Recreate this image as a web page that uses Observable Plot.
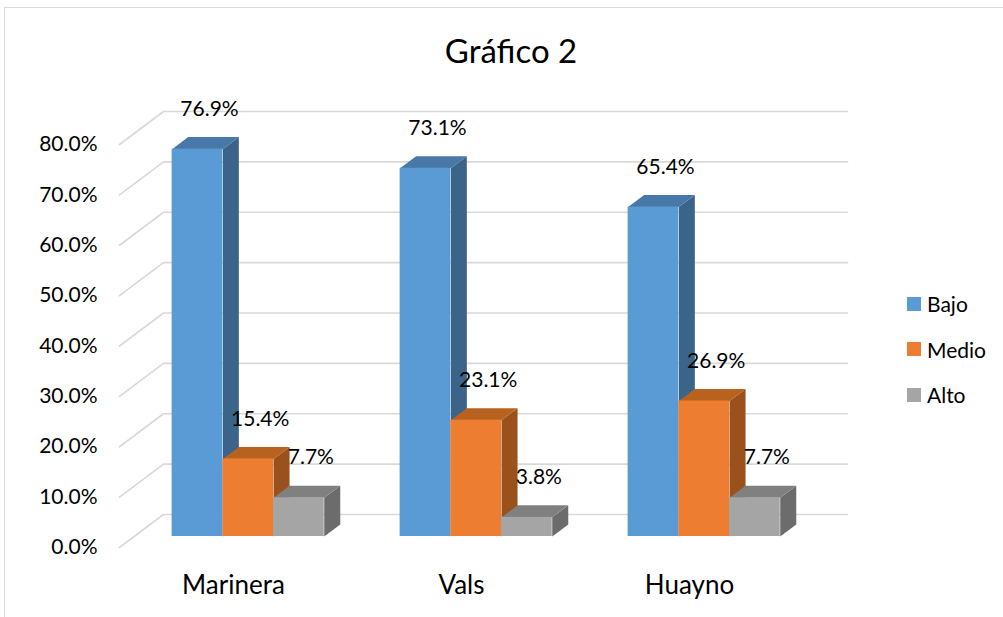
<!DOCTYPE html>
<html><head><meta charset="utf-8">
<script src="https://cdn.jsdelivr.net/npm/d3@7"></script>
<script src="https://cdn.jsdelivr.net/npm/@observablehq/plot@0.6"></script>
<style>
body{margin:0;background:#fff;font-family:Lato,sans-serif;}
#wrap{position:relative;width:1003px;height:617px;overflow:hidden;background:#fff;}
#border{position:absolute;left:4px;top:7px;width:1100px;height:700px;border:1.5px solid #d9d9d9;box-sizing:border-box;}
#chart{position:absolute;left:0;top:0;}
#title{position:absolute;left:0;width:1022px;top:34px;text-align:center;font-size:33px;line-height:33px;color:#000;}
#legend{position:absolute;left:907px;top:281px;font-size:21px;color:#000;}
#legend .row{display:flex;align-items:center;height:45.5px;}
#legend .sw{width:14px;height:14px;margin-right:6px;}
</style></head>
<body><div id="wrap"><div id="border"></div><div id="chart"></div><div id="title">Gráfico 2</div><div id="legend"></div></div>
<script>
// ---- data ----
const categories = ["Marinera", "Vals", "Huayno"];
const series = ["Bajo", "Medio", "Alto"];
const bajo = [76.9, 73.1, 65.4];
const medio = [15.4, 23.1, 26.9];
const alto = [7.7, 3.8, 7.7];
const yTicks = [0, 10, 20, 30, 40, 50, 60, 70, 80];

// ---- styles ----
const frontColors = ["#5B9BD5", "#ED7D31", "#A5A5A5"];
const topColors = ["#4878A8", "#B8621F", "#808080"];
const sideColors = ["#3B6488", "#9B511B", "#6C6C6C"];

// ---- 3D geometry (in data units of the front plane) ----
const DX = 0.193, DY = 6.55;      // full depth of floor
const d0 = 0.333, d1 = 0.697;     // bar front / back depth
const groupPad = 0.1665, bw = 0.2224;

const values = [bajo, medio, alto];
const bars = [];
categories.forEach((cat, i) => {
  series.forEach((s, j) => {
    const v = values[j][i];
    const x1 = i + groupPad + j * bw + d0 * DX;
    bars.push({cat, series: s, j, value: v, x1, x2: x1 + bw, y0: d0 * DY, y: v + d0 * DY});
  });
});
const ddx = (d1 - d0) * DX, ddy = (d1 - d0) * DY;

const grid = yTicks.flatMap(v => [
  {v, x: 0, y: v},
  {v, x: DX, y: v + DY},
  {v, x: categories.length + DX, y: v + DY}
]);

const marks = [];
marks.push(Plot.line(grid, {x: "x", y: "y", z: "v", stroke: "#d9d9d9", strokeWidth: 1.7}));

series.forEach((s, j) => {
  const side = bars.filter(b => b.j === j).flatMap((b, k) => [
    {id: k, x: b.x2, y: b.y0}, {id: k, x: b.x2, y: b.y},
    {id: k, x: b.x2 + ddx, y: b.y + ddy}, {id: k, x: b.x2 + ddx, y: b.y0 + ddy}
  ]);
  marks.push(Plot.line(side, {x: "x", y: "y", z: "id", fill: sideColors[j], stroke: "none"}));
});
series.forEach((s, j) => {
  const top = bars.filter(b => b.j === j).flatMap((b, k) => [
    {id: k, x: b.x1, y: b.y}, {id: k, x: b.x2, y: b.y},
    {id: k, x: b.x2 + ddx, y: b.y + ddy}, {id: k, x: b.x1 + ddx, y: b.y + ddy}
  ]);
  marks.push(Plot.line(top, {x: "x", y: "y", z: "id", fill: topColors[j], stroke: "none"}));
});
marks.push(Plot.rect(bars, {x1: "x1", x2: "x2", y1: "y0", y2: "y", fill: "series"}));

marks.push(Plot.text(bars, {
  x: b => (b.x1 + b.x2) / 2, y: "y", text: b => b.value.toFixed(1) + "%",
  dx: 12, dy: -40, fontSize: 21, fill: "#000", fontFamily: "Lato"
}));

marks.push(Plot.axisY({ticks: yTicks, tickFormat: d => d.toFixed(1) + "%", tickSize: 0, tickPadding: 22,
  fontSize: 21, fontFamily: "Lato", color: "#000"}));
marks.push(Plot.axisX({ticks: categories.map((c, i) => i + 0.5), tickFormat: d => categories[Math.floor(d)],
  tickSize: 0, tickPadding: 28, fontSize: 26, fontFamily: "Lato", color: "#000"}));

const chart = Plot.plot({
  width: 1003, height: 617,
  marginLeft: 119, marginRight: 200, marginTop: 144, marginBottom: 70,
  x: {domain: [0, categories.length], axis: null},
  y: {domain: [0, 80], axis: null},
  color: {domain: series, range: frontColors},
  style: {background: "transparent", fontFamily: "Lato"},
  marks
});
document.getElementById("chart").appendChild(chart);

const legend = document.getElementById("legend");
series.forEach((s, j) => {
  const row = document.createElement("div");
  row.className = "row";
  row.innerHTML = `<div class="sw" style="background:${frontColors[j]}"></div><span>${s}</span>`;
  legend.appendChild(row);
});
</script>
</body></html>
